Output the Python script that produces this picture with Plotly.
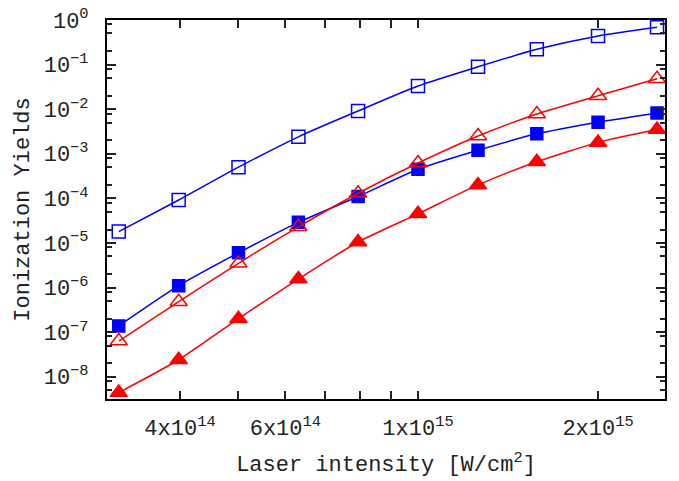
import plotly.graph_objects as go

# Laser intensity [W/cm^2]
intensity = [3.16e14, 3.98e14, 5.01e14, 6.31e14, 7.94e14, 1.0e15, 1.26e15, 1.58e15, 2.0e15, 2.51e15]

# Ionization yields
blue_open = [1.8e-5, 9.2e-5, 5.0e-4, 2.4e-3, 9.1e-3, 3.3e-2, 8.9e-2, 0.22, 0.44, 0.69]
blue_filled = [1.38e-7, 1.1e-6, 6.0e-6, 2.9e-5, 1.1e-4, 4.5e-4, 1.2e-3, 2.8e-3, 5.1e-3, 8.2e-3]
red_open = [6.3e-8, 4.8e-7, 3.5e-6, 2.3e-5, 1.3e-4, 6.2e-4, 2.5e-3, 7.8e-3, 2.0e-2, 4.8e-2]
red_filled = [4.4e-9, 2.4e-8, 2.0e-7, 1.55e-6, 1.05e-5, 4.5e-5, 2.0e-4, 6.6e-4, 1.8e-3, 3.5e-3]

x_tickvals = [4e14, 5e14, 6e14, 7e14, 8e14, 9e14, 1e15, 2e15]
x_ticktext = ["4x10<sup>14</sup>", "", "6x10<sup>14</sup>", "", "", "", "1x10<sup>15</sup>", "2x10<sup>15</sup>"]
y_exponents = [0, -1, -2, -3, -4, -5, -6, -7, -8]

FONT = "Liberation Mono, Courier New, monospace"
BLUE = "#0000ff"
RED = "#ff0000"

fig = go.Figure()

def add(y, color, symbol, size):
    fig.add_trace(go.Scatter(
        x=intensity, y=y, mode="lines+markers",
        line=dict(color=color, width=1.5, shape="spline", smoothing=0.6),
        marker=dict(symbol=symbol, size=size, color=color,
                    line=dict(color=color, width=1.5)),
        showlegend=False,
    ))

add(blue_open, BLUE, "square-open", 13)
add(blue_filled, BLUE, "square", 12)
add(red_open, RED, "triangle-up-open", 15)
add(red_filled, RED, "triangle-up", 15)

y_tickvals = [10.0 ** e for e in y_exponents]
y_ticktext = ["10<sup>%s</sup>" % (str(e).replace("-", "\u2212")) for e in y_exponents]
y_minor = []
for n in range(-9, 0):
    for m in (2, 5, 8):
        v = m * 10.0 ** n
        if 10 ** -8.5 <= v <= 1:
            y_minor.append(v)

fig.update_layout(
    width=679, height=481,
    margin=dict(l=107, r=14, t=20, b=82, autoexpand=False),
    paper_bgcolor="white", plot_bgcolor="white",
    font=dict(family=FONT, size=22, color="#222222"),
    xaxis=dict(
        type="log", range=[14.48, 15.413], automargin=False,
        tickmode="array", tickvals=x_tickvals, ticktext=x_ticktext,
        ticks="inside", ticklen=8, tickwidth=1.5, tickcolor="#222222",
        showline=True, linewidth=2, linecolor="black", mirror="ticks",
        showgrid=False, zeroline=False,
        ticklabelstandoff=8,
        title=dict(text="Laser intensity [W/cm<sup>2</sup>]", standoff=14,
                   font=dict(family=FONT, size=22)),
    ),
    yaxis=dict(
        type="log", range=[-8.5, 0], automargin=False,
        tickmode="array", tickvals=y_tickvals, ticktext=y_ticktext,
        ticks="inside", ticklen=9, tickwidth=1.5, tickcolor="#222222",
        minor=dict(tickmode="array", tickvals=y_minor, ticks="inside",
                   ticklen=5, tickwidth=1.5, tickcolor="#222222", showgrid=False),
        showline=True, linewidth=2, linecolor="black", mirror="ticks",
        showgrid=False, zeroline=False,
        ticklabelstandoff=12,
        title=dict(text="Ionization Yields", standoff=8,
                   font=dict(family=FONT, size=22)),
    ),
)

fig.write_html("out.html", config={"displayModeBar": False},
               post_script="document.body.style.margin='0';document.body.style.overflow='hidden';")
